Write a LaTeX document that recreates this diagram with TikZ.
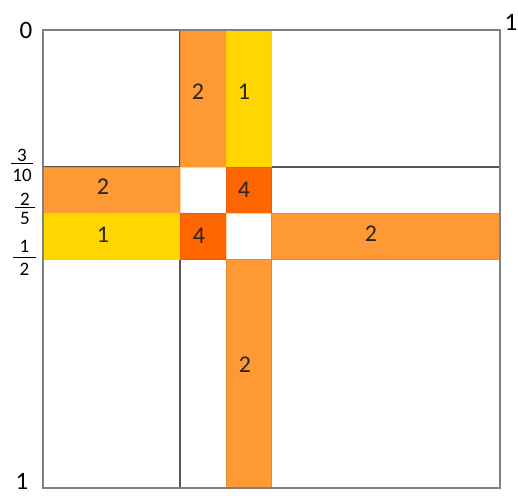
\documentclass[tikz,border=0pt]{standalone}
\usepackage{fontspec}
\setmainfont{Carlito}
\definecolor{bandorange}{RGB}{255,153,51}
\definecolor{bandyellow}{RGB}{255,214,0}
\definecolor{banddark}{RGB}{255,102,0}
\definecolor{gridgray}{RGB}{85,85,85}
\begin{document}
\begin{tikzpicture}[x=1pt,y=-1pt,
  orangeband/.style={fill=bandorange, draw=bandorange!90!black, line width=0.8pt},
  yellowband/.style={fill=bandyellow, draw=bandyellow!92!orange, line width=0.8pt},
  darkband/.style={fill=banddark, draw=banddark!92!black, line width=0.8pt},
  whitecell/.style={fill=white, draw=bandorange!45, line width=0.8pt},
  gridline/.style={draw=gridgray, line width=1.1pt},
  frameline/.style={draw=gray, line width=1.8pt},
  celllabel/.style={font=\fontsize{24}{26}\selectfont, inner sep=0pt, text=black!85},
  axislabel/.style={font=\fontsize{25}{27}\selectfont, inner sep=0pt},
  fraclabel/.style={font=\fontsize{19}{21}\selectfont, inner sep=0pt}]
\useasboundingbox (0,0) rectangle (518,495);
% grid
\draw[gridline] (180,30) -- (180,488);
\draw[gridline] (271,30) -- (271,488);
\draw[gridline] (43,167) -- (500,167);
\draw[gridline] (43,259) -- (500,259);
% bands
\filldraw[orangeband] (180,30) rectangle (226,167);
\filldraw[yellowband] (226,30) rectangle (271,167);
\filldraw[orangeband] (43,167) rectangle (180,213);
\filldraw[yellowband] (43,213) rectangle (180,259);
\filldraw[whitecell] (180,167) rectangle (226,213);
\filldraw[darkband] (226,167) rectangle (271,213);
\filldraw[darkband] (180,213) rectangle (226,259);
\filldraw[whitecell] (226,213) rectangle (271,259);
\filldraw[orangeband] (271,213) rectangle (500,259);
\filldraw[orangeband] (226,259) rectangle (271,488);
% frame
\draw[frameline] (43,30) rectangle (500,488);
% cell labels
\node[celllabel] (ctop2) at (198,92) {2};
\node[celllabel] (ctop1) at (244,92) {1};
\node[celllabel] (cleft2) at (103,187) {2};
\node[celllabel] (cleft1) at (103,235) {1};
\node[celllabel] (cmid4a) at (244,190) {4};
\node[celllabel] (cmid4b) at (199,236) {4};
\node[celllabel] (cright2) at (371,234) {2};
\node[celllabel] (cbot2) at (245,365) {2};
% axis labels
\node[axislabel] (zero) at (26,30) {0};
\node[axislabel] (onetop) at (511,22) {1};
\node[axislabel] (onebot) at (22,481) {1};
% fractions
\node[fraclabel] (n3) at (22,155.5) {3};
\draw[line width=0.8pt] (11,163) -- (33,163);
\node[fraclabel] (d10) at (22,175) {10};
\node[fraclabel] (n2) at (25,199.5) {2};
\draw[line width=0.8pt] (15,207) -- (35,207);
\node[fraclabel] (d5) at (25,218) {5};
\node[fraclabel] (n1) at (24.5,246.5) {1};
\draw[line width=0.8pt] (13,257) -- (36,257);
\node[fraclabel] (d2) at (24.5,269.5) {2};
\end{tikzpicture}
\end{document}
